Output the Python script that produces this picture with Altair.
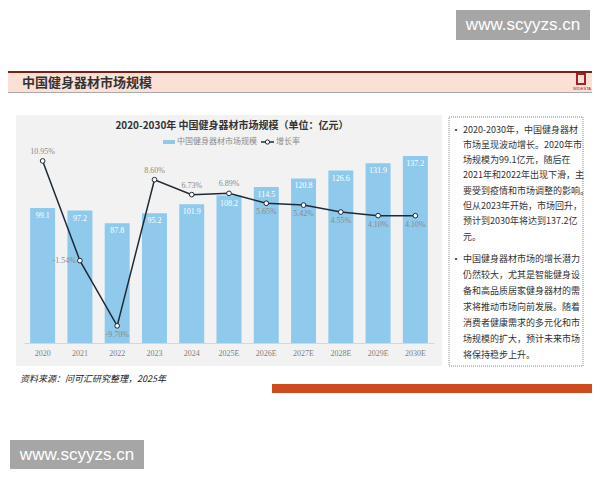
import altair as alt
import pandas as pd

# ---------------- data ----------------
years = ["2020", "2021", "2022", "2023", "2024", "2025E", "2026E", "2027E", "2028E", "2029E", "2030E"]
market_size = [99.1, 97.2, 87.8, 95.2, 101.9, 108.2, 114.5, 120.8, 126.6, 131.9, 137.2]
growth_rate = [10.95, -1.54, -9.70, 8.60, 6.73, 6.89, 5.65, 5.42, 4.55, 4.10, 4.10]
growth_text = ["10.95%", "-1.54%", "-9.70%", "8.60%", "6.73%", "6.89%", "5.65%", "5.42%", "4.55%", "4.10%", "4.10%"]

header_title = "中国健身器材市场规模"
chart_title = "2020-2030年  中国健身器材市场规模（单位：亿元）"
legend_bar = "中国健身器材市场规模"
legend_line = "增长率"
source_text = "资料来源：问可汇研究整理，2025年"
watermark = "www.scyyzs.cn"
para1 = ["2020-2030年，中国健身器材",
         "市场呈现波动增长。2020年市",
         "场规模为99.1亿元，随后在",
         "2021年和2022年出现下滑，主",
         "要受到疫情和市场调整的影响。",
         "但从2023年开始，市场回升，",
         "预计到2030年将达到137.2亿",
         "元。"]
para2 = ["中国健身器材市场的增长潜力",
         "仍然较大，尤其是智能健身设",
         "备和高品质居家健身器材的需",
         "求将推动市场向前发展。随着",
         "消费者健康需求的多元化和市",
         "场规模的扩大，预计未来市场",
         "将保持稳步上升。"]

df = pd.DataFrame({"year": years, "size": market_size, "growth": growth_rate, "gtext": growth_text})
one = pd.DataFrame({"k": [0]})

CJK = "Noto Sans CJK SC"
NUM = "Liberation Serif"
W, H = 410, 218

# ---------------- helpers for page decoration ----------------
def rect(x, x2, y, y2, **kw):
    return alt.Chart(one).mark_rect(**kw).encode(
        x=alt.value(x), x2=alt.value(x2), y=alt.value(y), y2=alt.value(y2))

def label(x, y, t, **kw):
    return alt.Chart(one).mark_text(**kw).encode(
        x=alt.value(x), y=alt.value(y), text=alt.value(t))

deco = [
    rect(-16, 568, -117, 347, fill="#ffffff"),
    # watermarks
    rect(432, 566, -115, -85, fill="#a6a6a6"),
    label(499, -100, watermark, font="Liberation Sans", fontSize=17, color="#ffffff", align="center", baseline="middle"),
    # header band
    rect(-16, 568, -54, -52, fill="#7a1f12"),
    rect(-16, 568, -52, -33, fill="#fbe0d6"),
    rect(-16, 568, -33, -32, fill="#a9a9a9"),
    label(-2, -42, header_title, font=CJK, fontSize=13, fontWeight="bold", color="#333333", align="left", baseline="middle"),
    rect(553, 561, -51, -41, fill="#fbe0d6", stroke="#a3212b", strokeWidth=2),
    label(558, -36, "WIDESTA", font="Liberation Sans", fontSize=4, color="#a3212b", align="center", baseline="middle"),
    # chart panel
    rect(-8, 418, -10, 241, fill="#f2f2f2"),
    label(208, 1, chart_title, font=CJK, fontSize=10, fontWeight="bold", color="#333333", align="center", baseline="middle"),
    # legend
    rect(139, 151, 15, 19, fill="#8fc9ec"),
    label(153, 17, legend_bar, font=CJK, fontSize=8, color="#8c8c8c", align="left", baseline="middle"),
    alt.Chart(one).mark_rule(color="#1f2a36", strokeWidth=1.5).encode(x=alt.value(237), x2=alt.value(250), y=alt.value(17)),
    alt.Chart(one).mark_point(filled=True, fill="#ffffff", stroke="#1f2a36", strokeWidth=1, size=18, opacity=1).encode(
        x=alt.value(243.5), y=alt.value(17)),
    label(252, 17, legend_line, font=CJK, fontSize=8, color="#8c8c8c", align="left", baseline="middle"),
    # text box
    rect(425, 559, -8, 241, fill="#ffffff", stroke="#8a8a8a", strokeWidth=1, strokeDash=[1, 1]),
    label(432, 5, "▪", font=CJK, fontSize=7, color="#444444", align="center", baseline="middle"),
    label(439, 0.5, para1, font=CJK, fontSize=9, color="#333333", align="left", baseline="top", lineHeight=15.3),
    label(432, 134, "▪", font=CJK, fontSize=7, color="#444444", align="center", baseline="middle"),
    label(439, 129.5, para2, font=CJK, fontSize=9, color="#333333", align="left", baseline="top", lineHeight=16),
    # source + footer bar
    label(-4, 254, source_text, font=CJK, fontSize=9, fontStyle="italic", color="#222222", align="left", baseline="middle"),
    rect(248, 568, 259, 268, fill="#cf4a1c"),
    rect(-14, 120, 315, 344, fill="#a6a6a6"),
    label(53, 330, watermark, font="Liberation Sans", fontSize=17, color="#ffffff", align="center", baseline="middle"),
]

# ---------------- data layers ----------------
xaxis = alt.Axis(title=None, labelAngle=0, ticks=False, grid=False, labelFont=NUM, labelFontSize=8,
                 labelColor="#7f7f7f", domainColor="#d6d6d6", labelPadding=6, zindex=1)
xenc = alt.X("year:N", sort=years, axis=xaxis,
             scale=alt.Scale(paddingInner=0.33, paddingOuter=0.165))
ybar = alt.Scale(domain=[0, 160], nice=False, zero=True)
yline = alt.Scale(domain=[-11.85, 15.45], nice=False, zero=False)

base = alt.Chart(df)

bars = base.mark_bar(color="#8fc9ec").encode(
    x=xenc, y=alt.Y("size:Q", scale=ybar, axis=None))
bar_labels = base.mark_text(font=NUM, fontSize=8, color="#ffffff", baseline="middle", dy=8).encode(
    x=xenc, y=alt.Y("size:Q", scale=ybar, axis=None), text=alt.Text("size:Q", format=".1f"))

line = base.mark_line(color="#1f2a36", strokeWidth=1.5).encode(
    x=xenc, y=alt.Y("growth:Q", scale=yline, axis=None))
points = base.mark_point(filled=True, fill="#ffffff", stroke="#1f2a36", strokeWidth=1, size=22, opacity=1).encode(
    x=xenc, y=alt.Y("growth:Q", scale=yline, axis=None))

above = ["2020", "2023", "2024", "2025E"]
left = ["2021"]
below = [y for y in years if y not in above + left]

def glabels(sel, **kw):
    return base.transform_filter(alt.FieldOneOfPredicate(field="year", oneOf=sel)).mark_text(
        font=NUM, fontSize=8, color="#8a8a8a", baseline="middle", **kw).encode(
        x=xenc, y=alt.Y("growth:Q", scale=yline, axis=None), text="gtext:N")

lab_above = glabels(above, dy=-9)
lab_below = glabels(below, dy=9)
lab_left = glabels(left, dx=-4, align="right")

chart = alt.layer(*deco, bars, bar_labels, line, points, lab_above, lab_below, lab_left).resolve_scale(
    y="independent").properties(width=W, height=H, padding=0, background="#ffffff").configure_view(stroke=None)

chart.save("out.html", embed_options={"renderer": "svg", "actions": False})
